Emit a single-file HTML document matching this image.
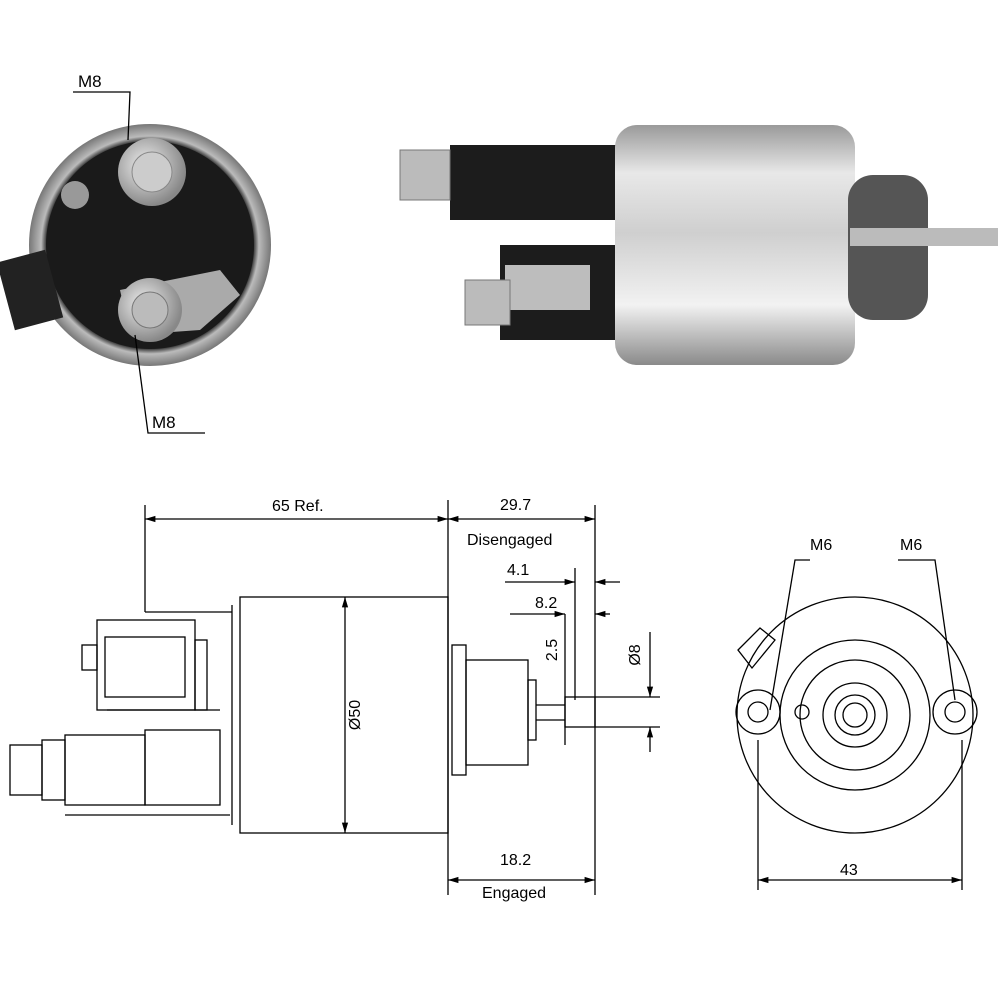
<!DOCTYPE html><html><head><style>body{margin:0;background:#fff}svg{display:block}</style></head><body>
<svg width="1000" height="1000" viewBox="0 0 1000 1000" xmlns="http://www.w3.org/2000/svg" font-family="Liberation Sans, sans-serif">
<defs>
<linearGradient id="cyl" x1="0" y1="0" x2="0" y2="1"><stop offset="0" stop-color="#9a9a9a"/><stop offset="0.2" stop-color="#e8e8e8"/><stop offset="0.45" stop-color="#cfcfcf"/><stop offset="0.75" stop-color="#f2f2f2"/><stop offset="1" stop-color="#8a8a8a"/></linearGradient>
<radialGradient id="ring" cx="0.5" cy="0.5" r="0.5"><stop offset="0.85" stop-color="#222"/><stop offset="0.9" stop-color="#bbb"/><stop offset="1" stop-color="#777"/></radialGradient>
<radialGradient id="bolt" cx="0.4" cy="0.4" r="0.6"><stop offset="0" stop-color="#eee"/><stop offset="1" stop-color="#888"/></radialGradient>
<marker id="a" viewBox="0 0 10 10" refX="10" refY="5" markerWidth="8" markerHeight="8" orient="auto-start-reverse"><path d="M0 2 L10 5 L0 8Z" fill="#000"/></marker>
</defs>
<circle cx="150" cy="245" r="121" fill="url(#ring)"/>
<circle cx="150" cy="245" r="104" fill="#1a1a1a"/>
<rect x="5" y="255" width="50" height="70" fill="#222" transform="rotate(-15 30 290)"/>
<circle cx="152" cy="172" r="34" fill="url(#bolt)"/>
<circle cx="152" cy="172" r="20" fill="#ccc" stroke="#888"/>
<path d="M120 290 L220 270 L240 295 L200 330 L130 335Z" fill="#aaa"/>
<circle cx="150" cy="310" r="32" fill="url(#bolt)"/>
<circle cx="150" cy="310" r="18" fill="#bbb" stroke="#777"/>
<circle cx="75" cy="195" r="14" fill="#999"/>
<g fill="none" stroke="#000" stroke-width="1.3"><polyline points="73,92 130,92 128,140"/><polyline points="205,433 148,433 135,335"/></g>
<text x="78" y="87" font-size="17">M8</text><text x="152" y="428" font-size="17">M8</text>
<rect x="450" y="145" width="175" height="75" fill="#1c1c1c"/>
<rect x="500" y="245" width="125" height="95" fill="#1c1c1c"/>
<rect x="505" y="265" width="85" height="45" fill="#bdbdbd"/>
<rect x="400" y="150" width="50" height="50" fill="#bbb" stroke="#777"/>
<rect x="465" y="280" width="45" height="45" fill="#bbb" stroke="#777"/>
<rect x="615" y="125" width="240" height="240" rx="22" fill="url(#cyl)"/>
<rect x="848" y="175" width="80" height="145" rx="25" fill="#555"/>
<rect x="850" y="228" width="148" height="18" fill="#bbb"/>
<g fill="none" stroke="#000" stroke-width="1.3">
<rect x="240" y="597" width="208" height="236"/><line x1="232" y1="605" x2="232" y2="825"/>
<rect x="452" y="645" width="14" height="130"/><rect x="466" y="660" width="62" height="105"/>
<rect x="528" y="680" width="8" height="60"/>
<line x1="536" y1="705" x2="565" y2="705"/><line x1="536" y1="720" x2="565" y2="720"/>
<rect x="565" y="697" width="30" height="30"/>
<rect x="97" y="620" width="98" height="90"/><rect x="105" y="637" width="80" height="60"/>
<rect x="82" y="645" width="15" height="25"/>
<rect x="195" y="640" width="12" height="70"/>
<rect x="145" y="730" width="75" height="75"/><rect x="65" y="735" width="80" height="70"/>
<rect x="42" y="740" width="23" height="60"/><rect x="10" y="745" width="32" height="50"/>
<line x1="145" y1="612" x2="232" y2="612"/><line x1="107" y1="710" x2="220" y2="710"/>
<line x1="65" y1="815" x2="230" y2="815"/>
<line x1="145" y1="505" x2="145" y2="612"/><line x1="448" y1="500" x2="448" y2="895"/>
<line x1="595" y1="505" x2="595" y2="895"/>
<line x1="145" y1="519" x2="448" y2="519" marker-start="url(#a)" marker-end="url(#a)"/>
<line x1="448" y1="519" x2="595" y2="519" marker-start="url(#a)" marker-end="url(#a)"/>
<line x1="448" y1="880" x2="595" y2="880" marker-start="url(#a)" marker-end="url(#a)"/>
<line x1="345" y1="597" x2="345" y2="833" marker-start="url(#a)" marker-end="url(#a)"/>
<line x1="505" y1="582" x2="575" y2="582" marker-end="url(#a)"/><line x1="620" y1="582" x2="595" y2="582" marker-end="url(#a)"/>
<line x1="575" y1="568" x2="575" y2="700"/>
<line x1="510" y1="614" x2="565" y2="614" marker-end="url(#a)"/><line x1="610" y1="614" x2="595" y2="614" marker-end="url(#a)"/>
<line x1="565" y1="614" x2="565" y2="745"/>
<line x1="595" y1="697" x2="660" y2="697"/><line x1="595" y1="727" x2="660" y2="727"/>
<line x1="650" y1="632" x2="650" y2="697" marker-end="url(#a)"/><line x1="650" y1="752" x2="650" y2="727" marker-end="url(#a)"/>
<circle cx="855" cy="715" r="118"/>
<circle cx="855" cy="715" r="75"/><circle cx="855" cy="715" r="55"/><circle cx="855" cy="715" r="32"/>
<circle cx="855" cy="715" r="20"/><circle cx="855" cy="715" r="12"/>
<circle cx="758" cy="712" r="22"/><circle cx="758" cy="712" r="10"/>
<circle cx="955" cy="712" r="22"/><circle cx="955" cy="712" r="10"/>
<path d="M738 650 L760 628 L775 640 L752 668Z"/>
<circle cx="802" cy="712" r="7"/>
<polyline points="810,560 795,560 770,710"/><polyline points="898,560 935,560 955,700"/>
<line x1="758" y1="740" x2="758" y2="890"/><line x1="962" y1="740" x2="962" y2="890"/>
<line x1="758" y1="880" x2="962" y2="880" marker-start="url(#a)" marker-end="url(#a)"/>
</g>
<g font-size="16" fill="#000">
<text x="272" y="511">65 Ref.</text><text x="500" y="510">29.7</text>
<text x="467" y="545">Disengaged</text><text x="507" y="575">4.1</text><text x="535" y="608">8.2</text>
<text x="500" y="865">18.2</text><text x="482" y="898">Engaged</text>
<text x="810" y="550">M6</text><text x="900" y="550">M6</text><text x="840" y="875">43</text>
<text transform="translate(360,715) rotate(-90)" text-anchor="middle">Ø50</text>
<text transform="translate(557,650) rotate(-90)" text-anchor="middle">2.5</text>
<text transform="translate(640,655) rotate(-90)" text-anchor="middle">Ø8</text>
</g>
</svg></body></html>
